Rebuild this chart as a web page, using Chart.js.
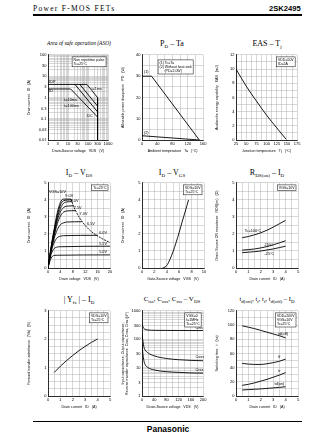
<!DOCTYPE html>
<html>
<head>
<meta charset="utf-8">
<script src="https://cdn.jsdelivr.net/npm/chart.js@4.4.1/dist/chart.umd.min.js"></script>
<style>
body { margin: 0; width: 336px; height: 434px; background: #fff; position: relative; overflow: hidden; font-family: "Liberation Sans", Arial, sans-serif; }
.abs { position: absolute; white-space: nowrap; line-height: 1; }
canvas { position: absolute; }
.ttl { position: absolute; font-family: "Liberation Serif", "Times New Roman", serif; font-size: 8px; white-space: nowrap; transform: translateX(-50%); line-height: 1; }
.ttl sub { font-size: 5px; vertical-align: -1.5px; }
</style>
</head>
<body>
<div class="abs" style="left:33px;top:5px;font-family:'Liberation Serif',serif;font-size:7.5px;letter-spacing:1.3px">Power F-MOS FETs</div>
<div class="abs" style="left:269px;top:5px;font-weight:bold;font-size:7.6px">2SK2495</div>
<div class="abs" style="left:33px;top:14px;width:269px;height:1.6px;background:#000"></div>

<div class="ttl" style="left:79px;top:40px;font-style:italic;font-size:7px;transform:translateX(-50%) scaleX(0.78)">Area of safe operation (ASO)</div>
<div class="ttl" style="left:172px;top:40px">P<sub>D</sub> – Ta</div>
<div class="ttl" style="left:267px;top:40px">EAS – T<sub>j</sub></div>
<div class="ttl" style="left:79px;top:169px">I<sub>D</sub> – V<sub>DS</sub></div>
<div class="ttl" style="left:172px;top:169px">I<sub>D</sub> – V<sub>GS</sub></div>
<div class="ttl" style="left:267px;top:169px">R<sub>DS(on)</sub> – I<sub>D</sub></div>
<div class="ttl" style="left:79px;top:296px">| Y<sub>fs</sub> | – I<sub>D</sub></div>
<div class="ttl" style="left:172px;top:296px;font-size:7px">C<sub>iss</sub>, C<sub>oss</sub>, C<sub>rss</sub> – V<sub>DS</sub></div>
<div class="ttl" style="left:267px;top:296px;font-size:6.5px">t<sub>d(on)</sub>, t<sub>r</sub>, t<sub>f</sub>, t<sub>d(off)</sub> – I<sub>D</sub></div>

<canvas id="c1" width="88" height="103" style="left:26px;top:51px"></canvas>
<canvas id="c2" width="88" height="103" style="left:120px;top:51px"></canvas>
<canvas id="c3" width="88" height="103" style="left:214px;top:51px"></canvas>
<canvas id="c4" width="88" height="103" style="left:26px;top:179px"></canvas>
<canvas id="c5" width="88" height="103" style="left:120px;top:179px"></canvas>
<canvas id="c6" width="88" height="103" style="left:214px;top:179px"></canvas>
<canvas id="c7" width="88" height="103" style="left:26px;top:307px"></canvas>
<canvas id="c8" width="88" height="103" style="left:120px;top:307px"></canvas>
<canvas id="c9" width="88" height="103" style="left:214px;top:307px"></canvas>

<div class="abs" style="left:33px;top:421px;width:269px;height:1px;background:#000"></div>
<div class="abs" style="left:168px;top:425px;transform:translateX(-50%);font-weight:bold;font-size:8.5px">Panasonic</div>

<script>
// --- ASO (log-log) ---
const asoIdp   = [[1, 4.1], [88, 4.1]];
const asoId    = [[1, 2.5], [13.6, 2.5]];
const aso1ms   = [[88, 4.1], [300, 0.98]];
const aso10ms  = [[38.8, 4.1], [300, 0.39]];
const aso100ms = [[22.2, 4.1], [300, 0.21]];
const asoDC    = [[13.6, 2.5], [300, 0.12]];
const asoVdss  = [[300, 0.98], [300, 0.01]];
const asoXLabels = [1, 3, 10, 30, 100, 300, 1000];
const asoYLabels = [0.01, 0.03, 0.1, 0.3, 1, 3, 10, 30, 100];

// --- PD - Ta ---
const pdCase = [[0, 30], [25, 30], [150, 0]];
const pdFree = [[0, 2], [150, 0]];

// --- EAS - Tj ---
const easTj = [[25, 10], [50, 7.6], [75, 5.5], [100, 3.5], [125, 1.7], [148, 0.1]];

// --- ID - VDS (one curve per VGS) ---
const vgsNames = ['10V', '9.0V', '8.0V', '7.5V', '7.0V', '6.5V', '6.0V', '5.5V', '5.0V'];
const idVds10  = [[0,0],[1,1.25],[2,2.3],[3,3.25],[4,3.85],[5,4.05],[7.4,4.05]];
const idVds9   = [[0,0],[1,1.2],[2,2.2],[3,3.1],[4,3.7],[5,3.95],[7.5,4.0]];
const idVds8   = [[0,0],[1,1.15],[2,2.1],[3,2.95],[4,3.5],[5,3.8],[6,3.88],[7.7,3.9]];
const idVds75  = [[0,0],[1,1.1],[2,2.0],[3,2.8],[4,3.3],[5,3.55],[6,3.63],[8.2,3.65]];
const idVds7   = [[0,0],[1,1.05],[2,1.9],[3,2.6],[4,3.05],[5,3.28],[6,3.35],[9,3.37]];
const idVds65  = [[0,0],[1,1.0],[2,1.75],[3,2.25],[4,2.55],[5,2.65],[6,2.7],[11,2.72]];
const idVds6   = [[0,0],[0.5,0.5],[1,0.95],[2,1.5],[3,1.78],[4,1.87],[5,1.9],[16,1.92]];
const idVds55  = [[0,0],[0.5,0.45],[1,0.8],[1.5,1.02],[2,1.15],[3,1.23],[4,1.25],[20,1.28]];
const idVds5   = [[0,0],[0.5,0.35],[1,0.58],[1.5,0.7],[2,0.74],[3,0.75],[20,0.77]];
const idVdsLimit = [[7.4,4.05],[8,3.75],[9,3.33],[10,3.0],[11,2.73],[12,2.5],[14,2.14],[16,1.88],[18,1.67],[20,1.5]];

// --- ID - VGS ---
const idVgs = [[3.3,0],[3.7,0.05],[4.1,0.2],[4.5,0.5],[5,0.95],[5.5,1.5],[6,2.1],[6.5,2.75],[7,3.35],[7.5,4.0]];

// --- RDS(on) - ID ---
const rds100 = [[0.5,1.78],[1,1.85],[1.5,1.95],[2,2.07],[2.5,2.22],[3,2.4],[3.5,2.6],[4,2.8]];
const rds25  = [[0.5,1.05],[1,1.08],[1.5,1.12],[2,1.18],[2.5,1.26],[3,1.36],[3.5,1.48],[4,1.6]];
const rdsM25 = [[0.5,0.9],[1,0.93],[1.5,0.96],[2,1.0],[2.5,1.06],[3,1.12],[3.5,1.2],[4,1.28]];

// --- |Yfs| - ID ---
const yfs = [[0.5,0.83],[1,1.05],[1.5,1.25],[2,1.43],[2.5,1.6],[3,1.75],[3.5,1.89],[4,2.01]];

// --- Capacitance - VDS ---
const ciss = [[0,360],[3,280],[6,240],[10,225],[20,212],[40,207],[80,205],[120,204],[160,203],[200,203]];
const coss = [[0,160],[3,85],[6,55],[10,42],[20,33],[40,26],[80,21],[120,19],[160,18],[200,17.5]];
const crss = [[0,70],[3,30],[6,18],[10,13],[20,10],[40,8.3],[80,7.2],[120,6.8],[160,6.5],[200,6.4]];
const capYLabels = [1, 3, 10, 30, 100, 300, 1000];

// --- Switching time - ID ---
const tdOff = [[0.5,99],[1,97],[1.5,95],[2,92.5],[2.5,90],[3,87.5],[3.5,85],[4,82]];
const tFall = [[0.5,46],[1,45],[1.5,44.5],[2,44.5],[2.5,45.5],[3,47],[3.5,49],[4,52]];
const tRise = [[0.5,15],[1,16.5],[1.5,18.5],[2,21],[2.5,23.5],[3,26.5],[3.5,29.5],[4,33]];
const tdOn  = [[0.5,8.5],[1,9],[1.5,9.5],[2,10],[2.5,10.7],[3,11.4],[3.5,12.2],[4,13]];

const FONT = '"Liberation Sans", Arial, sans-serif';

// draws curve labels and the little condition box
const notesPlugin = {
  id: 'notes',
  afterDatasetsDraw(chart, args, opts) {
    const ctx = chart.ctx, xs = chart.scales.x, ys = chart.scales.y, area = chart.chartArea;
    ctx.save();
    ctx.fillStyle = '#000';
    ctx.font = '3.8px ' + FONT;
    ctx.textBaseline = 'middle';
    (opts.items || []).forEach(n => {
      ctx.textAlign = n.align || 'left';
      ctx.fillText(n.text, xs.getPixelForValue(n.x), ys.getPixelForValue(n.y));
    });
    if (opts.box) {
      const lines = opts.box.lines, lh = 4.2;
      ctx.font = '3.5px ' + FONT;
      const w = Math.max(...lines.map(t => ctx.measureText(t).width)) + 3;
      const h = lines.length * lh + 1.5;
      const x = area.right - w - (opts.box.dx || 2), y = area.top + (opts.box.dy || 2);
      ctx.fillStyle = '#fff';
      ctx.fillRect(x, y, w, h);
      ctx.strokeStyle = '#000';
      ctx.lineWidth = 0.5;
      ctx.strokeRect(x, y, w, h);
      ctx.fillStyle = '#000';
      ctx.textAlign = 'left';
      ctx.textBaseline = 'top';
      lines.forEach((t, i) => ctx.fillText(t, x + 1.5, y + 1 + i * lh));
    }
    ctx.restore();
  }
};

function logGrid(min, max) {
  const out = [];
  for (let e = Math.round(Math.log10(min)); e < Math.round(Math.log10(max)); e++) {
    for (let k = 1; k < 10; k++) out.push(Number((k * Math.pow(10, e)).toPrecision(3)));
  }
  out.push(max);
  return out;
}

function axis(o, which) {
  const a = {
    type: o.log ? 'logarithmic' : 'linear',
    min: o.min, max: o.max,
    border: { color: '#000', width: 0.8 },
    grid: { color: '#a8a8a8', lineWidth: 0.45, drawTicks: false },
    ticks: {
      font: { size: 4, family: FONT }, color: '#000', padding: 1.5,
      autoSkip: false, maxRotation: 0, minRotation: 0,
      callback: v => {
        if (o.log) return o.labels.some(l => Math.abs(l - v) / l < 1e-6) ? String(v) : '';
        const r = v / o.major;
        return Math.abs(r - Math.round(r)) < 1e-6 ? String(v) : '';
      }
    },
    title: { display: true, text: o.title, font: { size: 3.6, family: FONT }, color: '#000', padding: 0.5 },
    afterFit: s => { if (which === 'y') s.width = 22; else s.height = 14; }
  };
  if (o.log) a.afterBuildTicks = s => { s.ticks = logGrid(o.min, o.max).map(v => ({ value: v })); };
  else a.ticks.stepSize = o.step;
  return a;
}

function ds(points, extra) {
  return Object.assign({
    data: points.map(p => ({ x: p[0], y: p[1] })),
    borderColor: '#000', borderWidth: 0.9, pointRadius: 0, fill: false,
    tension: 0.35, cubicInterpolationMode: 'monotone'
  }, extra || {});
}

function makeChart(id, datasets, xo, yo, notes) {
  return new Chart(document.getElementById(id), {
    type: 'line',
    data: { datasets },
    options: {
      responsive: false, animation: false, events: [],
      layout: { padding: { top: 3, right: 4, left: 0, bottom: 0 } },
      plugins: { legend: { display: false }, tooltip: { enabled: false }, notes: notes || {} },
      scales: { x: axis(xo, 'x'), y: axis(yo, 'y') }
    },
    plugins: [notesPlugin]
  });
}

const straight = { tension: 0, cubicInterpolationMode: 'default' };

// ASO
makeChart('c1',
  [asoIdp, asoId, aso1ms, aso10ms, aso100ms, asoDC, asoVdss].map(p => ds(p, straight)),
  { log: true, min: 1, max: 1000, labels: asoXLabels, title: 'Drain-Source voltage   VDS   (V)' },
  { log: true, min: 0.01, max: 100, labels: asoYLabels, title: 'Drain current   ID   (A)' },
  { items: [
      { x: 1.15, y: 5.3, text: 'IDP' }, { x: 1.15, y: 2.0, text: 'ID' },
      { x: 150, y: 2.6, text: 't=1ms' }, { x: 6.5, y: 0.75, text: 't=10ms' },
      { x: 6.5, y: 0.38, text: 't=100ms' }, { x: 170, y: 0.14, text: 'DC', align: 'right' } ],
    box: { lines: ['Non repetitive pulse', 'Tc=25°C'] } });

// PD - Ta
makeChart('c2', [ds(pdCase, straight), ds(pdFree, straight)],
  { min: 0, max: 160, step: 20, major: 40, title: 'Ambient temperature   Ta   (°C)' },
  { min: 0, max: 40, step: 5, major: 10, title: 'Allowable power dissipation   PD   (W)' },
  { items: [{ x: 5, y: 32, text: '(1)' }, { x: 5, y: 3.4, text: '(2)' }],
    box: { lines: ['(1) Tc=Ta', '(2) Without heat sink', '     (PD=2.0W)'], dx: 10, dy: 5 } });

// EAS - Tj
makeChart('c3', [ds(easTj)],
  { min: 25, max: 175, step: 12.5, major: 25, title: 'Junction temperature   Tj   (°C)' },
  { min: 0, max: 12, step: 1, major: 2, title: 'Avalanche energy capability   EAS   (mJ)' },
  { box: { lines: ['VDD=50V', 'ID=2A'] } });

// ID - VDS
makeChart('c4',
  [idVds10, idVds9, idVds8, idVds75, idVds7, idVds65, idVds6, idVds55, idVds5].map(p => ds(p))
    .concat([ds(idVdsLimit, { borderDash: [2, 1] })]),
  { min: 0, max: 20, step: 2, major: 4, title: 'Drain voltage   VDS   (V)' },
  { min: 0, max: 5, step: 0.5, major: 1, title: 'Drain current   ID   (A)' },
  { items: [
      { x: 0.3, y: 4.45, text: 'VGS=' + vgsNames[0] }, { x: 5.6, y: 4.25, text: vgsNames[1] },
      { x: 7.3, y: 3.95, text: vgsNames[2] }, { x: 8.3, y: 3.55, text: vgsNames[3] },
      { x: 10.2, y: 3.15, text: vgsNames[4] }, { x: 12.6, y: 2.6, text: vgsNames[5] },
      { x: 16.5, y: 2.08, text: vgsNames[6] }, { x: 16.5, y: 1.42, text: vgsNames[7] },
      { x: 16.5, y: 0.93, text: vgsNames[8] } ],
    box: { lines: ['Tc=25°C'] } });

// ID - VGS
makeChart('c5', [ds(idVgs)],
  { min: 0, max: 10, step: 1, major: 2, title: 'Gate-Source voltage   VGS   (V)' },
  { min: 0, max: 5, step: 0.5, major: 1, title: 'Drain current   ID   (A)' },
  { box: { lines: ['VDS=10V', 'Tc=25°C'] } });

// RDS(on) - ID
makeChart('c6', [ds(rds100), ds(rds25), ds(rdsM25)],
  { min: 0, max: 5, step: 0.5, major: 1, title: 'Drain current   ID   (A)' },
  { min: 0, max: 5, step: 0.5, major: 1, title: 'Drain-Source ON resistance   RDS(on)   (Ω)' },
  { items: [{ x: 0.7, y: 2.2, text: 'Tc=100°C' }, { x: 2.3, y: 1.38, text: '25°C' }, { x: 2.3, y: 0.82, text: '-25°C' }],
    box: { lines: ['VGS=10V'] } });

// |Yfs| - ID
makeChart('c7', [ds(yfs)],
  { min: 0, max: 5, step: 0.5, major: 1, title: 'Drain current   ID   (A)' },
  { min: 0, max: 3, step: 0.25, major: 1, title: 'Forward transfer admittance   |Yfs|   (S)' },
  { box: { lines: ['VDS=10V', 'Tc=25°C'] } });

// Capacitance - VDS
makeChart('c8', [ds(ciss), ds(coss), ds(crss)],
  { min: 0, max: 200, step: 20, major: 40, title: 'Drain-Source voltage   VDS   (V)' },
  { log: true, min: 1, max: 1000, labels: capYLabels,
    title: ['Input capacitance, Output capacitance,', 'Reverse transfer capacitance  Ciss, Coss, Crss (pF)'] },
  { items: [{ x: 175, y: 260, text: 'Ciss' }, { x: 175, y: 23, text: 'Coss' }, { x: 175, y: 8.5, text: 'Crss' }],
    box: { lines: ['VGS=0', 'f=1MHz', 'Tc=25°C'] } });

// Switching time - ID
makeChart('c9', [ds(tdOff), ds(tFall), ds(tRise), ds(tdOn)],
  { min: 0, max: 5, step: 0.5, major: 1, title: 'Drain current   ID   (A)' },
  { min: 0, max: 120, step: 10, major: 20, title: 'Switching time   t   (ns)' },
  { items: [{ x: 3.4, y: 88, text: 'td(off)' }, { x: 3.4, y: 55, text: 'tf' },
            { x: 3.4, y: 35, text: 'tr' }, { x: 3.1, y: 17, text: 'td(on)' }],
    box: { lines: ['VDD=200V', 'VGS=10V', 'Tc=25°C'] } });
</script>
</body>
</html>
